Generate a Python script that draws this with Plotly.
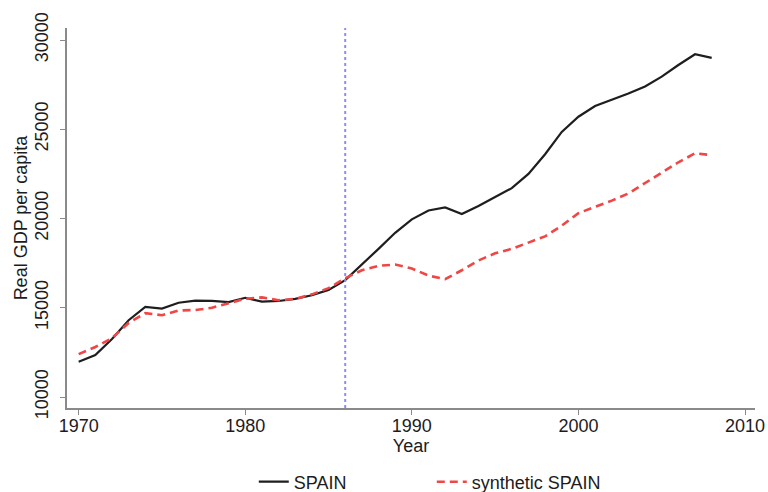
import plotly.graph_objects as go

years = list(range(1970, 2009))
spain = [11980, 12350, 13250, 14300, 15050, 14950, 15280, 15400, 15380, 15320,
         15560, 15340, 15380, 15500, 15700, 16000, 16550, 17400, 18300, 19200,
         19950, 20450, 20620, 20250, 20700, 21200, 21700, 22500, 23600, 24850,
         25700, 26300, 26650, 27000, 27400, 27950, 28600, 29200, 29000]
synthetic = [12400, 12800, 13300, 14150, 14700, 14580, 14850, 14870, 15000, 15250,
             15500, 15580, 15420, 15500, 15750, 16100, 16650, 17100, 17350, 17420,
             17200, 16800, 16600, 17100, 17650, 18050, 18300, 18650, 19000, 19600,
             20300, 20650, 21000, 21400, 22000, 22600, 23150, 23650, 23550]
treatment_year = 1986
x_ticks = [1970, 1980, 1990, 2000, 2010]
y_ticks = [10000, 15000, 20000, 25000, 30000]
y_tick_labels = ["10000", "15000", "20000", "25000", "30000"]

font_family = "Liberation Sans, Arial, sans-serif"
text_color = "#1c1c1c"
axis_color = "#8a8a8a"

fig = go.Figure()
fig.add_trace(go.Scatter(x=years, y=spain, mode="lines", name="SPAIN",
                         line=dict(color="#1e1e1e", width=2.2)))
fig.add_trace(go.Scatter(x=years, y=synthetic, mode="lines", name="synthetic SPAIN",
                         line=dict(color="#f04646", width=2.6, dash="8px,5px")))

fig.add_shape(type="line", xref="x", yref="paper", x0=treatment_year, x1=treatment_year,
              y0=0, y1=1, line=dict(color="#8c8cff", width=2, dash="dot"))

fig.update_layout(
    width=768, height=492,
    margin=dict(l=67, r=13, t=28, b=84),
    paper_bgcolor="white", plot_bgcolor="white",
    font=dict(family=font_family, size=18, color=text_color),
    showlegend=True,
    legend=dict(orientation="h", x=0.2715, xanchor="left",
                yref="container", y=10 / 492, yanchor="middle",
                font=dict(size=18, color=text_color),
                entrywidth=133, entrywidthmode="pixels",
                bgcolor="rgba(0,0,0,0)"),
)
fig.update_xaxes(range=[1969.3, 2010.6], tickvals=x_ticks, ticks="outside", ticklen=5,
                 tickcolor=axis_color, showline=True, linecolor=axis_color, linewidth=1.5,
                 showgrid=False, zeroline=False, automargin=False,
                 ticklabelstandoff=-4,
                 title=dict(text="Year", standoff=0, font=dict(size=18)),
                 tickfont=dict(size=18))
fig.update_yaxes(range=[9384, 30672], tickvals=y_ticks, ticktext=y_tick_labels,
                 ticks="outside", ticklen=5,
                 tickcolor=axis_color, showline=True, linecolor=axis_color, linewidth=1.5,
                 showgrid=False, zeroline=False, tickangle=-90, automargin=False,
                 ticklabelstandoff=5,
                 title=dict(text="Real GDP per capita", standoff=0, font=dict(size=18)),
                 tickfont=dict(size=18))

fig.write_html("out.html", config={"displayModeBar": False},
               post_script="document.body.style.margin='0';")
